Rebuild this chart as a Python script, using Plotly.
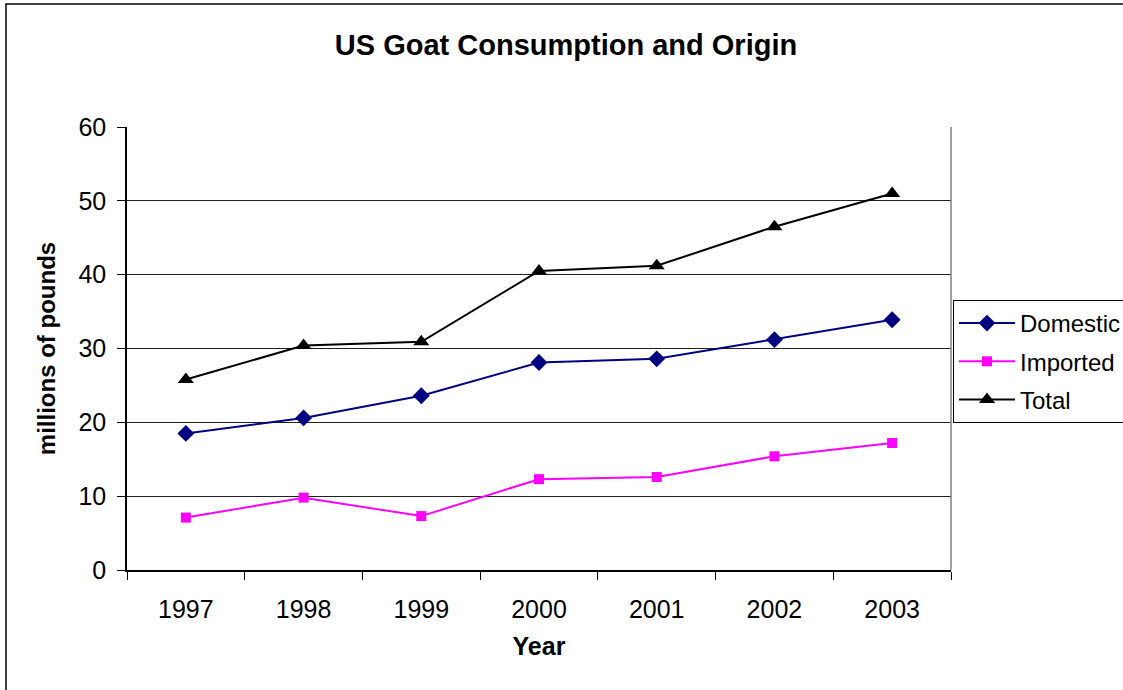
import plotly.graph_objects as go

years = ["1997", "1998", "1999", "2000", "2001", "2002", "2003"]
domestic = [18.5, 20.6, 23.6, 28.1, 28.6, 31.2, 33.9]
imported = [7.1, 9.8, 7.3, 12.3, 12.6, 15.4, 17.2]
total = [25.8, 30.4, 30.9, 40.5, 41.2, 46.5, 51.0]

W, H = 1123, 690
L, R, T, B = 127, 951, 127, 570
FONT = "Liberation Sans, Arial, sans-serif"

def px_x(px):
    return (px - L) / (R - L)

def px_y(py):
    return 1 - (py - T) / (B - T)

fig = go.Figure()
fig.add_trace(go.Scatter(x=years, y=domestic, name="Domestic", mode="lines+markers",
                         legendgroup="d",
                         line=dict(color="#000080", width=2),
                         marker=dict(symbol="diamond", size=13, color="#000080")))
fig.add_trace(go.Scatter(x=years, y=imported, name="Imported", mode="lines+markers",
                         legendgroup="i",
                         line=dict(color="#FF00FF", width=2),
                         marker=dict(symbol="square", size=10, color="#FF00FF")))
fig.add_trace(go.Scatter(x=years, y=total, name="Total", mode="lines+markers",
                         legendgroup="t",
                         line=dict(color="#000000", width=2),
                         marker=dict(symbol="triangle-up", size=14, color="#000000")))

fig.update_layout(
    width=W, height=H,
    margin=dict(l=L, r=W - R, t=T, b=H - B, pad=0, autoexpand=False),
    paper_bgcolor="white", plot_bgcolor="white",
    font=dict(family=FONT, color="black", size=25),
    title=dict(text="<b>US Goat Consumption and Origin</b>", x=0.504, xanchor="center",
               y=1 - 45 / H, yanchor="middle", font=dict(size=29, family=FONT)),
    xaxis=dict(type="category", tickson="boundaries", ticks="outside", ticklen=8,
               tickcolor="black", showline=True, linecolor="black", linewidth=1.5,
               showgrid=False, tickfont=dict(size=25), ticklabelstandoff=16,
               title=dict(text="<b>Year</b>", font=dict(size=25), standoff=16),
               range=[-0.5, 6.5]),
    yaxis=dict(range=[0, 60], dtick=10, ticks="outside", ticklen=8, tickcolor="black",
               showline=True, linecolor="black", linewidth=1.5,
               showgrid=True, gridcolor="#202020", gridwidth=1,
               tickfont=dict(size=25), ticklabelstandoff=6,
               title=dict(text="<b>millions of pounds</b>", font=dict(size=24), standoff=16),
               zeroline=False),
    legend=dict(x=px_x(953), y=px_y(300), xanchor="left", yanchor="top",
                bgcolor="white", bordercolor="black", borderwidth=1,
                font=dict(size=24, family=FONT), itemwidth=56, tracegroupgap=4,
                traceorder="grouped"),
    showlegend=True,
)

# right border of plot area
fig.add_shape(type="line", xref="paper", yref="paper", x0=1, x1=1, y0=0, y1=1,
              line=dict(color="#808080", width=1.5))
# outer chart border
fig.add_shape(type="rect", xref="paper", yref="paper",
              x0=px_x(6), x1=px_x(1140), y0=px_y(4), y1=px_y(710),
              line=dict(color="black", width=1.5), layer="below")

fig.write_html("out.html")
